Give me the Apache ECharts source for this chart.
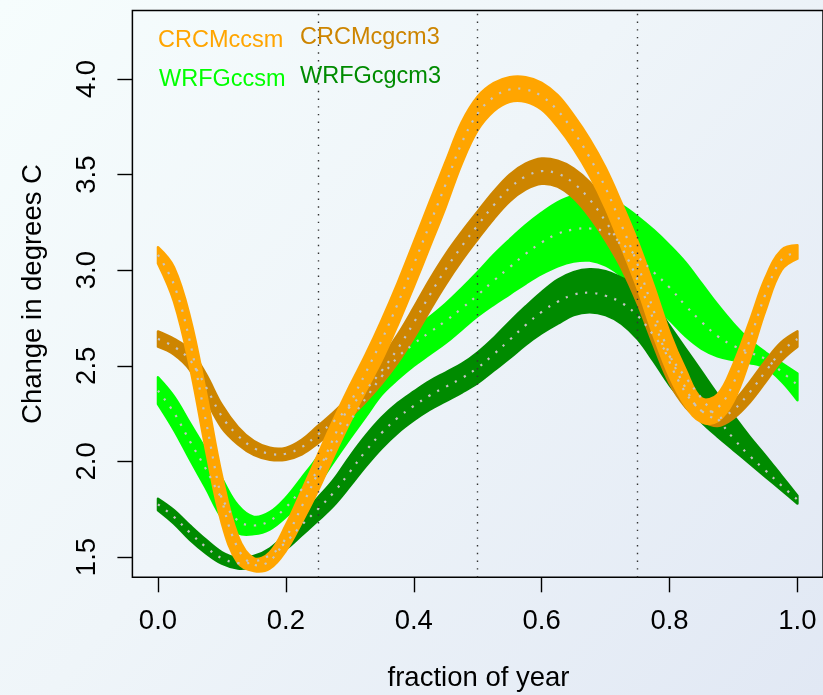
<!DOCTYPE html>
<html>
<head>
<meta charset="utf-8">
<script src="https://cdn.jsdelivr.net/npm/echarts@6/dist/echarts.min.js"></script>
<style>
html,body{margin:0;padding:0;}
#chart{width:823px;height:695px;}
</style>
</head>
<body>
<div id="chart"></div>
<script>
// ---- data (fraction of year, step 0.025) ----
const xs = [0,0.025,0.05,0.075,0.1,0.125,0.15,0.175,0.2,0.225,0.25,0.275,0.3,0.325,0.35,0.375,0.4,0.425,0.45,0.475,0.5,
            0.525,0.55,0.575,0.6,0.625,0.65,0.675,0.7,0.725,0.75,0.775,0.8,0.825,0.85,0.875,0.9,0.925,0.95,0.975,1.0];

// CRCMccsm
const crcmCcsmMean = [3.08,2.925,2.625,2.21,1.80,1.545,1.46,1.48,1.60,1.765,1.94,2.125,2.30,2.465,2.635,2.825,3.03,3.24,3.45,3.665,3.82,
                      3.905,3.945,3.945,3.91,3.835,3.725,3.59,3.43,3.235,3.03,2.79,2.56,2.385,2.265,2.28,2.41,2.63,2.875,3.055,3.095];
const crcmCcsmLow  = [3.035,2.835,2.495,2.06,1.675,1.47,1.427,1.44,1.533,1.683,1.847,2.03,2.205,2.37,2.53,2.715,2.915,3.122,3.332,3.557,3.732,
                      3.832,3.881,3.881,3.84,3.75,3.635,3.495,3.325,3.12,2.905,2.66,2.445,2.29,2.205,2.21,2.315,2.53,2.79,3.0,3.06];
const crcmCcsmHigh = [3.12,3.015,2.755,2.36,1.925,1.61,1.493,1.525,1.667,1.848,2.033,2.22,2.395,2.56,2.74,2.935,3.145,3.358,3.568,3.773,3.908,
                      3.978,4.009,4.009,3.98,3.915,3.81,3.685,3.535,3.35,3.15,2.92,2.675,2.48,2.33,2.35,2.51,2.73,2.96,3.105,3.13];

// CRCMcgcm3
const crcmCgcmMean = [2.64,2.60,2.53,2.39,2.235,2.135,2.07,2.04,2.04,2.075,2.14,2.21,2.285,2.375,2.475,2.59,2.725,2.87,3.005,3.125,3.235,
                      3.34,3.43,3.49,3.518,3.505,3.455,3.37,3.255,3.12,2.95,2.74,2.52,2.36,2.265,2.225,2.27,2.36,2.47,2.575,2.64];
const crcmCgcmLow  = [2.60,2.559,2.478,2.324,2.175,2.09,2.034,2.009,2.009,2.037,2.095,2.163,2.23,2.313,2.408,2.517,2.646,2.789,2.926,3.05,3.162,
                      3.268,3.36,3.422,3.452,3.437,3.377,3.28,3.156,3.011,2.827,2.61,2.41,2.284,2.215,2.185,2.226,2.307,2.415,2.527,2.60];
const crcmCgcmHigh = [2.68,2.641,2.583,2.456,2.295,2.18,2.106,2.071,2.071,2.113,2.185,2.257,2.34,2.437,2.542,2.663,2.804,2.951,3.084,3.20,3.307,
                      3.411,3.50,3.557,3.584,3.572,3.532,3.46,3.354,3.229,3.073,2.87,2.63,2.436,2.316,2.265,2.314,2.413,2.525,2.623,2.68];

// WRFGccsm
const wrfgCcsmMean = [2.37,2.255,2.105,1.96,1.805,1.69,1.665,1.69,1.76,1.855,1.95,2.08,2.21,2.33,2.445,2.545,2.615,2.675,2.735,2.80,2.87,
                      2.945,3.015,3.085,3.145,3.19,3.213,3.218,3.20,3.14,3.07,2.99,2.91,2.815,2.73,2.655,2.605,2.57,2.535,2.47,2.40];
const wrfgCcsmLow  = [2.30,2.165,2.01,1.86,1.705,1.625,1.62,1.645,1.71,1.795,1.88,2.00,2.12,2.235,2.35,2.43,2.50,2.56,2.62,2.69,2.76,
                      2.82,2.875,2.93,2.98,3.02,3.045,3.05,3.025,2.97,2.90,2.82,2.74,2.655,2.59,2.55,2.53,2.515,2.49,2.42,2.32];
const wrfgCcsmHigh = [2.44,2.34,2.20,2.06,1.91,1.77,1.71,1.735,1.81,1.915,2.025,2.165,2.30,2.42,2.53,2.62,2.69,2.755,2.825,2.905,2.99,
                      3.08,3.16,3.235,3.30,3.355,3.39,3.40,3.385,3.34,3.28,3.21,3.13,3.04,2.93,2.82,2.72,2.635,2.57,2.515,2.46];

// WRFGcgcm3
const wrfgCgcmMean = [1.775,1.71,1.627,1.552,1.493,1.468,1.475,1.51,1.578,1.668,1.75,1.838,1.945,2.055,2.15,2.228,2.29,2.345,2.39,2.435,2.49,
                      2.56,2.636,2.713,2.782,2.835,2.872,2.882,2.866,2.83,2.762,2.66,2.55,2.44,2.33,2.225,2.12,2.03,1.953,1.874,1.80];
const wrfgCgcmLow  = [1.745,1.675,1.59,1.52,1.465,1.44,1.448,1.48,1.54,1.615,1.69,1.77,1.87,1.975,2.07,2.15,2.215,2.27,2.315,2.36,2.41,
                      2.475,2.54,2.61,2.67,2.72,2.765,2.78,2.765,2.72,2.64,2.525,2.40,2.30,2.205,2.13,2.06,1.99,1.92,1.85,1.78];
const wrfgCgcmHigh = [1.805,1.745,1.665,1.59,1.525,1.495,1.505,1.545,1.62,1.72,1.81,1.905,2.025,2.135,2.23,2.305,2.365,2.42,2.465,2.51,2.57,
                      2.645,2.73,2.81,2.885,2.95,2.99,3.005,2.995,2.96,2.92,2.83,2.71,2.59,2.47,2.35,2.24,2.13,2.03,1.925,1.82];

const modelNames = ['CRCMccsm','CRCMcgcm3','WRFGccsm','WRFGcgcm3'];
const xTicks = [0,0.2,0.4,0.6,0.8,1.0];
const yTicks = [1.5,2.0,2.5,3.0,3.5,4.0];
const quarterLines = [0.25,0.5,0.75];
const xTitle = 'fraction of year';
const yTitle = 'Change in degrees C';

// ---- styling ----
const colors = {
  'CRCMccsm':'#FFA500',
  'CRCMcgcm3':'#CD8500',
  'WRFGccsm':'#00FF00',
  'WRFGcgcm3':'#008B00'
};
const groups = [
  {name:'WRFGccsm', mean:wrfgCcsmMean, low:wrfgCcsmLow, high:wrfgCcsmHigh},
  {name:'WRFGcgcm3', mean:wrfgCgcmMean, low:wrfgCgcmLow, high:wrfgCgcmHigh},
  {name:'CRCMcgcm3', mean:crcmCgcmMean, low:crcmCgcmLow, high:crcmCgcmHigh},
  {name:'CRCMccsm', mean:crcmCcsmMean, low:crcmCcsmLow, high:crcmCcsmHigh}
];
const FONT = "'Liberation Sans', Arial, Helvetica, sans-serif";
const SMOOTH = 0.38;

// smooth path through pixel points (same idea as ECharts line smoothing)
function smoothSeg(pts, start) {
  let d = start + pts[0][0].toFixed(2) + ' ' + pts[0][1].toFixed(2);
  const n = pts.length;
  const cps = pts.map((p, i) => {
    if (i === 0 || i === n - 1) return [p, p];
    const pr = pts[i-1], nx = pts[i+1];
    const vx = nx[0]-pr[0], vy = nx[1]-pr[1];
    const l0 = Math.hypot(p[0]-pr[0], p[1]-pr[1]);
    const l1 = Math.hypot(nx[0]-p[0], nx[1]-p[1]);
    const r = l1/(l0+l1);
    return [[p[0]-vx*SMOOTH*(1-r), p[1]-vy*SMOOTH*(1-r)], [p[0]+vx*SMOOTH*r, p[1]+vy*SMOOTH*r]];
  });
  for (let i = 1; i < n; i++) {
    const a = cps[i-1][1], b = cps[i][0], p = pts[i];
    d += ' C' + a[0].toFixed(2)+' '+a[1].toFixed(2)+' '+b[0].toFixed(2)+' '+b[1].toFixed(2)+' '+p[0].toFixed(2)+' '+p[1].toFixed(2);
  }
  return d;
}

const series = [];
groups.forEach(g => {
  series.push({
    type:'custom', name:g.name+'_band', silent:true, z:2, clip:true,
    data: xs.map((x,i)=>[x, g.low[i], g.high[i]]),
    encode:{x:0, y:[1,2]},
    renderItem:(params, api) => {
      if (params.dataIndexInside !== 0) return null;
      const n = params.dataInsideLength;
      const up = [], lo = [];
      for (let i = 0; i < n; i++) {
        up.push(api.coord([api.value(0,i), api.value(2,i)]));
        lo.push(api.coord([api.value(0,i), api.value(1,i)]));
      }
      lo.reverse();
      const path = smoothSeg(up, 'M') + ' ' + smoothSeg(lo, 'L') + ' Z';
      return {type:'path', shape:{pathData:path},
        style:{fill:colors[g.name], stroke:colors[g.name], lineWidth:2.5, lineJoin:'round'}};
    }
  });
});
groups.forEach(g => {
  series.push({
    type:'custom', name:g.name, silent:true, z:3, clip:true,
    data: xs.map((x,i)=>[x, g.mean[i]]),
    encode:{x:0, y:1},
    renderItem:(params, api) => {
      if (params.dataIndexInside !== 0) return null;
      const n = params.dataInsideLength;
      const pts = [];
      for (let i = 0; i < n; i++) pts.push(api.coord([api.value(0,i), api.value(1,i)]));
      return {type:'path', shape:{pathData:smoothSeg(pts,'M')},
        style:{fill:null, stroke:'#c4c4c4', lineWidth:2.2, lineDash:[2.2,7.8], lineCap:'butt'}};
    }
  });
});
series.push({
  type:'line', name:'quarters', data:[], silent:true, z:4,
  markLine:{
    silent:true, symbol:'none', label:{show:false}, animation:false,
    lineStyle:{color:'#333', width:1.4, type:[1.4,6.3], cap:'butt'},
    data: quarterLines.map(v=>({xAxis:v}))
  }
});

const legendPos = {
  'CRCMccsm':[158,41],
  'CRCMcgcm3':[300,38],
  'WRFGccsm':[159,79.5],
  'WRFGcgcm3':[300,76.3]
};
const graphics = modelNames.map(n => ({
  type:'text', x:legendPos[n][0], y:legendPos[n][1], z:10,
  style:{text:n, fill:colors[n], font:'23.5px '+FONT, textAlign:'left', textVerticalAlign:'middle'}
}));
graphics.push({
  type:'text', x:478.5, y:678.5, z:10,
  style:{text:xTitle, fill:'#000', font:'27.5px '+FONT, textAlign:'center', textVerticalAlign:'middle'}
});
graphics.push({
  type:'text', x:33, y:294, rotation:Math.PI/2, z:10,
  style:{text:yTitle, fill:'#000', font:'27.5px '+FONT, textAlign:'center', textVerticalAlign:'middle'}
});

const chart = echarts.init(document.getElementById('chart'), null, {renderer:'canvas'});
chart.setOption({
  animation:false,
  backgroundColor: new echarts.graphic.LinearGradient(0,0,1,1,[
    {offset:0, color:'#f6fdfd'},
    {offset:0.45, color:'#eff5f9'},
    {offset:1, color:'#e1e8f4'}
  ]),
  grid:{left:132.4, top:10.5, width:692.3, height:566.8, show:true, borderColor:'#000', borderWidth:1.5, backgroundColor:'transparent'},
  xAxis:{
    type:'value', min:-0.04, max:1.04,
    axisLine:{show:false, onZero:false},
    splitLine:{show:false},
    axisTick:{show:true, customValues:xTicks, length:15, lineStyle:{color:'#000', width:1.4}},
    axisLabel:{customValues:xTicks, formatter:v=>v.toFixed(1), color:'#000', fontSize:27.5, fontFamily:FONT, margin:44, verticalAlign:'middle', lineHeight:28}
  },
  yAxis:{
    type:'value', min:1.394, max:4.358,
    axisLine:{show:false, onZero:false},
    splitLine:{show:false},
    axisTick:{show:true, customValues:yTicks, length:15, lineStyle:{color:'#000', width:1.4}},
    axisLabel:{customValues:yTicks, formatter:v=>v.toFixed(1), color:'#000', fontSize:27.5, fontFamily:FONT, margin:44.5, rotate:90, align:'center', verticalAlign:'middle', lineHeight:28}
  },
  graphic: graphics,
  series: series
});
</script>
</body>
</html>
